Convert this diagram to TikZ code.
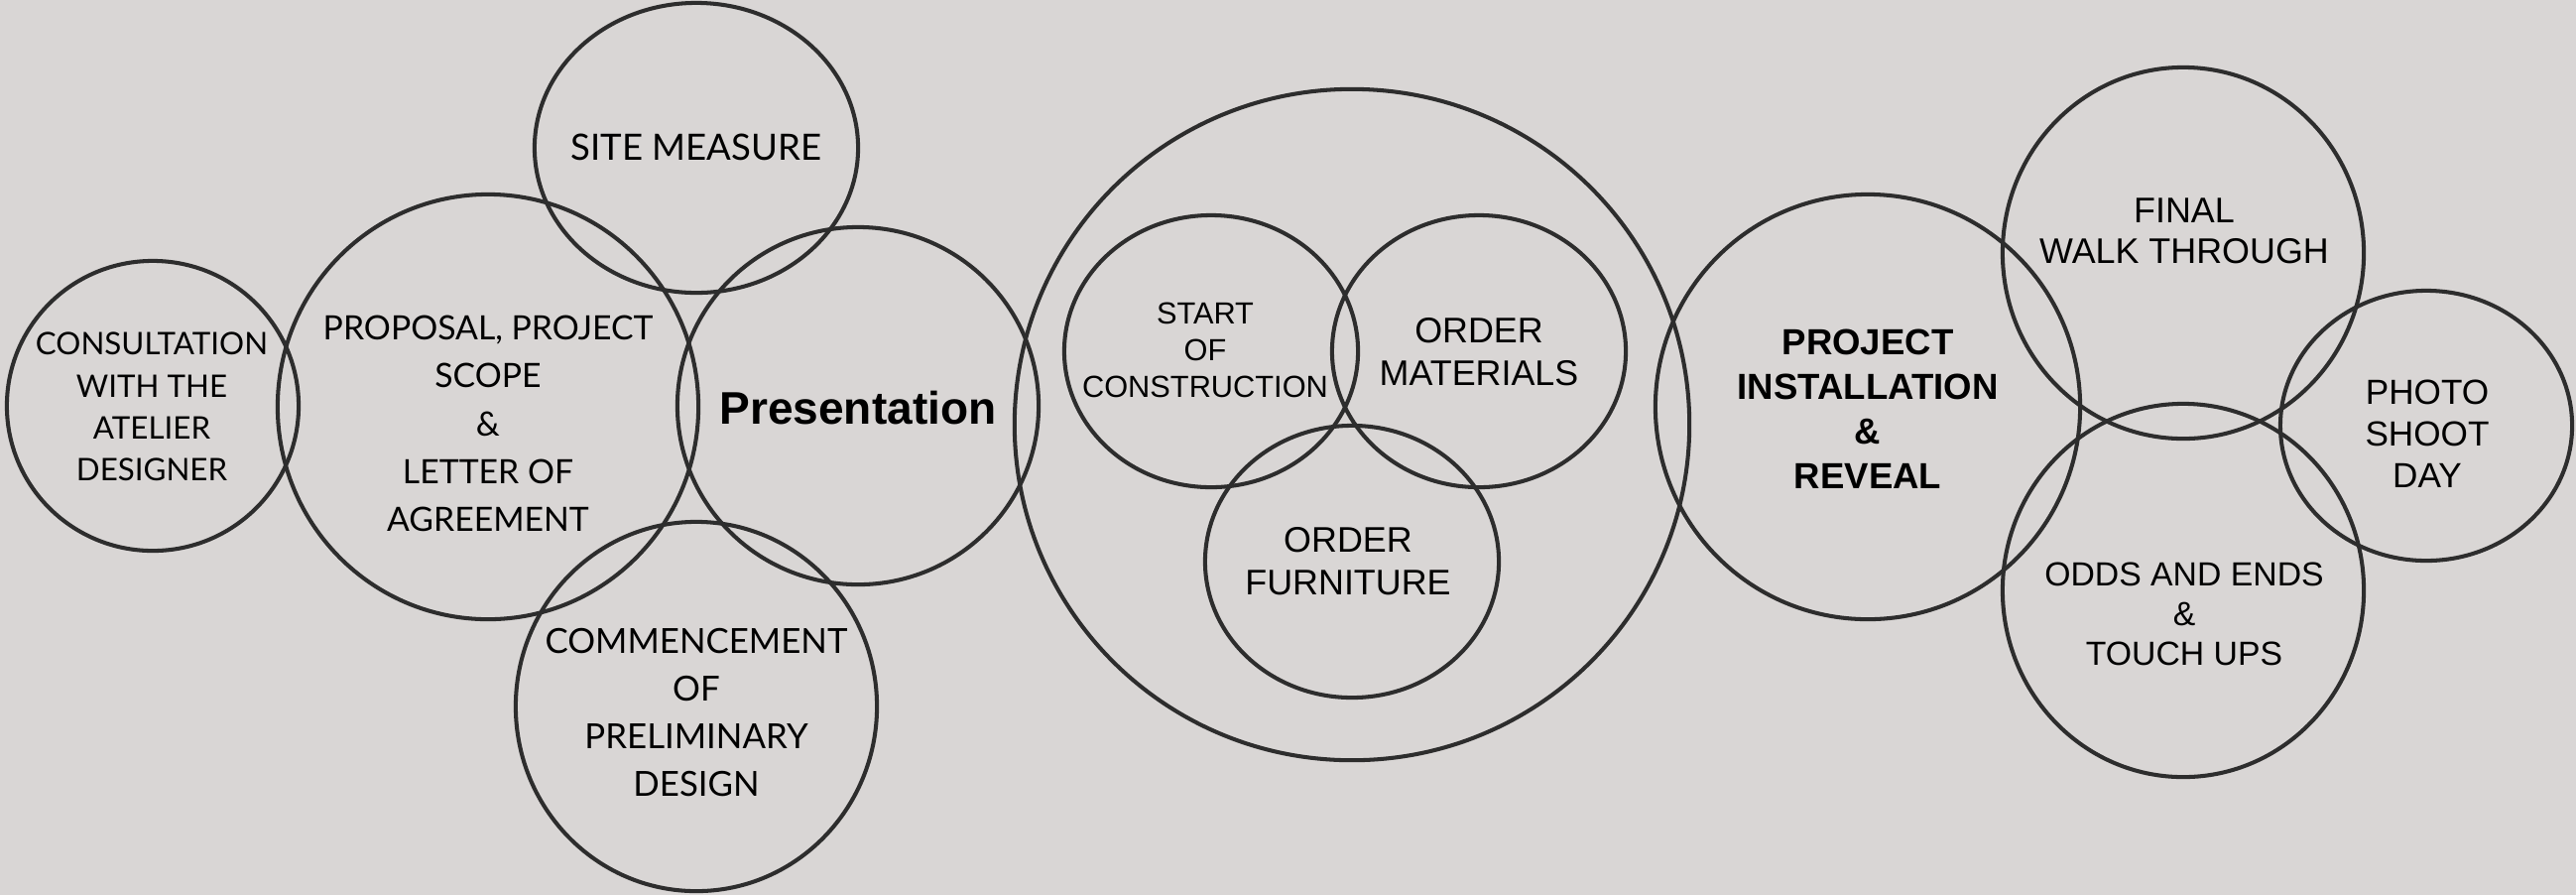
\documentclass[tikz,border=0pt]{standalone}
\usepackage{fontspec}
\setmainfont{Liberation Sans}
\newfontfamily\avfont{Lato}
\usetikzlibrary{shapes.geometric}
\definecolor{bgc}{RGB}{217,214,213}
\definecolor{ringc}{RGB}{45,45,45}
\tikzset{
  ring/.style={draw=ringc, line width=1.15pt, ellipse, inner sep=0pt, outer sep=0pt},
  lbl/.style={align=center, inner sep=0pt, text=black},
}
\begin{document}
\begin{tikzpicture}[x=0.01cm,y=-0.01cm]
\fill[bgc] (0,0) rectangle (2597,902);
\useasboundingbox (0,0) rectangle (2597,902);
% circles
\node[ring, minimum width=2.94cm, minimum height=2.92cm] (c1) at (154,409) {};
\node[ring, minimum width=4.24cm, minimum height=4.28cm] (c2) at (492,410) {};
\node[ring, minimum width=3.26cm, minimum height=2.92cm] (c3) at (702,149) {};
\node[ring, minimum width=3.64cm, minimum height=3.60cm] (c4) at (865,409) {};
\node[ring, minimum width=3.64cm, minimum height=3.72cm] (c5) at (702,712) {};
\node[ring, minimum width=6.80cm, minimum height=6.76cm] (c6) at (1363,428) {};
\node[ring, minimum width=2.96cm, minimum height=2.74cm] (c7) at (1221,354) {};
\node[ring, minimum width=2.96cm, minimum height=2.74cm] (c8) at (1491,354) {};
\node[ring, minimum width=2.96cm, minimum height=2.74cm] (c9) at (1363,566) {};
\node[ring, minimum width=4.28cm, minimum height=4.28cm] (c10) at (1883,410) {};
\node[ring, minimum width=3.64cm, minimum height=3.74cm] (c11) at (2201,255) {};
\node[ring, minimum width=3.64cm, minimum height=3.76cm] (c12) at (2201,595) {};
\node[ring, minimum width=2.94cm, minimum height=2.72cm] (c13) at (2446,429) {};
% labels
\node[lbl, font=\avfont\fontsize{8.9pt}{12pt}\selectfont] (t1) at (153,410) {CONSULTATION\\WITH THE\\ATELIER\\DESIGNER};
\node[lbl, font=\avfont\fontsize{9.6pt}{13.7pt}\selectfont] (t2) at (492,427) {PROPOSAL, PROJECT\\SCOPE\\\&\\LETTER OF\\AGREEMENT};
\node[lbl, font=\avfont\fontsize{10.4pt}{12pt}\selectfont] (t3) at (702,148) {SITE MEASURE};
\node[lbl, font=\bfseries\fontsize{13.1pt}{15pt}\selectfont] (t4) at (865,411) {Presentation};
\node[lbl, font=\avfont\fontsize{9.9pt}{13.7pt}\selectfont] (t5) at (702,718) {COMMENCEMENT\\OF\\PRELIMINARY\\DESIGN};
\node[lbl, font=\fontsize{8.75pt}{10.5pt}\selectfont] (t7) at (1215,353) {START\\OF\\CONSTRUCTION};
\node[lbl, font=\fontsize{10.2pt}{12.2pt}\selectfont] (t8) at (1491,355) {ORDER\\MATERIALS};
\node[lbl, font=\fontsize{10.2pt}{12.2pt}\selectfont] (t9) at (1359,566) {ORDER\\FURNITURE};
\node[lbl, font=\bfseries\fontsize{10.4pt}{12.8pt}\selectfont] (t10) at (1883,412) {PROJECT\\INSTALLATION\\\&\\REVEAL};
\node[lbl, font=\fontsize{10.2pt}{11.7pt}\selectfont] (t11) at (2202,233) {FINAL\\WALK THROUGH};
\node[lbl, font=\fontsize{9.6pt}{11.4pt}\selectfont] (t12) at (2202,619) {ODDS AND ENDS\\\&\\TOUCH UPS};
\node[lbl, font=\fontsize{10pt}{12pt}\selectfont] (t13) at (2447,437) {PHOTO\\SHOOT\\DAY};
\end{tikzpicture}
\end{document}
